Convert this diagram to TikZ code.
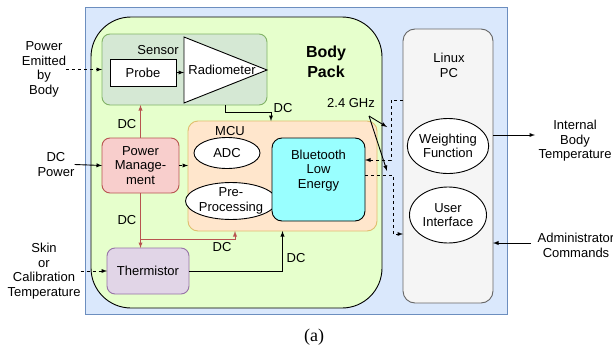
\documentclass[tikz,border=0pt]{standalone}
\usepackage{fontspec}
\setmainfont{Liberation Sans}
\newfontfamily\capfont{Liberation Serif}
\usetikzlibrary{shapes.geometric,arrows,positioning}

\definecolor{blaugrund}{HTML}{DAE8FC}
\definecolor{blaurand}{HTML}{6C8EBF}
\definecolor{packgrund}{HTML}{E6FFCC}
\definecolor{sensorgrund}{HTML}{D5E8D4}
\definecolor{sensorrand}{HTML}{82B366}
\definecolor{pmgrund}{HTML}{F8CECC}
\definecolor{pmrand}{HTML}{B85450}
\definecolor{thermgrund}{HTML}{E1D5E7}
\definecolor{thermrand}{HTML}{9673A6}
\definecolor{mcugrund}{HTML}{FFE6CC}
\definecolor{mcurand}{HTML}{E0BE6E}
\definecolor{blegrund}{HTML}{99FFFF}
\definecolor{pcgrund}{HTML}{F5F5F5}
\definecolor{pcrand}{HTML}{666666}

\begin{document}
\begin{tikzpicture}[x=1pt, y=-1pt, font=\fontsize{13}{14.5}\selectfont,
      box/.style={rectangle, draw, line width=0.9pt, rounded corners=8pt, inner sep=0pt, outer sep=0pt, align=center},
      oval/.style={ellipse, draw=black, fill=white, line width=0.9pt, inner sep=0pt, align=center},
      txt/.style={inner sep=0pt, align=center},
      pfeil/.style={-latex, line width=0.9pt},
      rpfeil/.style={pfeil, draw=pmrand},
      strich/.style={pfeil, dash pattern=on 3pt off 3pt}]

\useasboundingbox (0,0) rectangle (613,351);

% containers
\node[box, rounded corners=0pt, draw=blaurand, fill=blaugrund, minimum width=422, minimum height=307] (rahmen) at (296,160.5) {};
\node[box, rounded corners=40pt, fill=packgrund, minimum width=291, minimum height=291] (pack) at (236.5,162.5) {};
\node[txt, font=\fontsize{16}{20}\selectfont\bfseries] (packtitel) at (326,62) {Body\\Pack};

% sensor
\node[box, draw=sensorrand, fill=sensorgrund, minimum width=165, minimum height=71] (sensor) at (184.5,69.5) {};
\node[txt] (sensortitel) at (158,50) {Sensor};
\node[box, rounded corners=0pt, fill=white, minimum width=66, minimum height=27] (probe) at (143,72.5) {Probe};
\draw[line width=0.9pt, fill=white] (184,37) -- (267,70) -- (184,103) -- cycle;
\node[txt] (radio) at (222,70) {Radiometer};
\coordinate (radiobasis) at (184,72.5);

% power, mcu, thermistor
\node[box, draw=pmrand, fill=pmgrund, minimum width=77, minimum height=55] (pm) at (140.5,165.5) {Power\\Manage-\\ment};
\node[box, rounded corners=10pt, draw=mcurand, fill=mcugrund, minimum width=189, minimum height=110] (mcu) at (282.5,176) {};
\node[txt] (mcutitel) at (230,131) {MCU};
\node[oval, minimum width=66, minimum height=31] (adc) at (227,153) {ADC};
\node[oval, minimum width=77, minimum height=33] (prep) at (231,201) {Pre-\\Processing};
\node[box, rounded corners=10pt, fill=blegrund, minimum width=93, minimum height=83] (ble) at (318.5,179.5) {Bluetooth\\Low\\Energy\\[6pt]};
\node[box, fill=thermgrund, draw=thermrand, minimum width=82, minimum height=46] (therm) at (148,271) {Thermistor};

% linux pc
\node[box, rounded corners=12pt, draw=pcrand, fill=pcgrund, minimum width=90, minimum height=274] (pc) at (448,166) {};
\node[txt] (pctitel) at (449,65.5) {Linux\\PC};
\node[oval, minimum width=77, minimum height=55] (wf) at (448,146) {Weighting\\Function};
\node[oval, minimum width=77, minimum height=56] (ui) at (448,215) {User\\Interface};

% outside labels
\node[txt] (emit) at (44,69.5) {Power\\Emitted\\by\\Body};
\node[txt] (dcpower) at (56,164.5) {DC\\Power};
\node[txt] (skin) at (44,271) {Skin\\or\\Calibration\\Temperature};
\node[txt] (ibt) at (575,141) {Internal\\Body\\Temperature};
\node[txt] (admin) at (576,245.5) {Administrator\\Commands};
\node[txt] (ghz) at (351,103) {2.4 GHz};
\node[txt, font=\fontsize{18}{20}\selectfont\capfont] (unter) at (314,337) {(a)};

% helper points
\coordinate (s1) at (225,0);
\coordinate (s2) at (271,112);
\coordinate (abzw) at (140.5,239);
\coordinate (s3) at (235,0);
\coordinate (aus) at (535,135);
\coordinate (ein) at (531,243);
\coordinate (g0) at (369,116);
\coordinate (g1) at (387,127);
\coordinate (g2) at (387,171);
\coordinate (k1) at (391,100);
\coordinate (k2) at (391,160);
\coordinate (k3) at (393,175);
\coordinate (k4) at (393,234);

% connectors
\draw[strich] (emit.east) -- (sensor.west);
\draw[pfeil] (probe) -- (radiobasis);
\draw[pfeil] (sensor.south -| s1) |- (s2) -- (mcu.north -| s2);
\draw[pfeil] (dcpower.east) -- (pm.west);
\draw[strich] (pm.east) -- (mcu.west |- pm.east);
\draw[rpfeil] (pm.north) -- (sensor.south -| pm.north);
\draw[rpfeil] (pm.south) -- (therm.north -| pm.south);
\draw[rpfeil] (abzw) -| (mcu.south -| s3);
\draw[strich] (skin.east) -- (therm.west);
\draw[pfeil] (therm.east) -| (mcu.south);
\draw[pfeil] (pc.east |- aus) -- (aus);
\draw[pfeil] (ein) -- (pc.east |- ein);
\draw[pfeil] (g0) -- (g1);
\draw[pfeil] (g0) -- (g2);
\draw[strich] (pc.west |- k1) -- (k1) -- (k2) -- (ble.east |- k2);
\draw[strich] (ble.east |- k3) -- (k3) -- (k4) -- (pc.west |- k4);

% dc labels
\node[txt] (dc1) at (127,124) {DC};
\node[txt] (dc2) at (283,108) {DC};
\node[txt] (dc3) at (127,220) {DC};
\node[txt] (dc4) at (222,247) {DC};
\node[txt] (dc5) at (296,258) {DC};

\end{tikzpicture}
\end{document}
